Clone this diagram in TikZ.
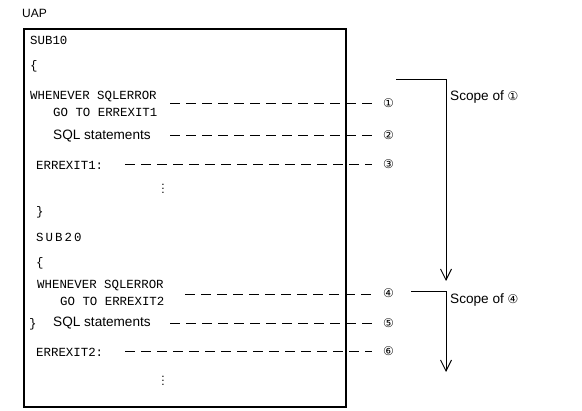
\documentclass[tikz,border=0pt]{standalone}
\usepackage{fontspec}
\setmainfont{Liberation Sans}
\newfontfamily\codefont{Liberation Mono}
\newfontfamily\symfont{DejaVu Sans}
\usetikzlibrary{arrows.meta}
\begin{document}
\begin{tikzpicture}[x=1pt,y=-1pt,
  code/.style={anchor=west,inner sep=0pt,font=\codefont\fontsize{12.4}{14}\selectfont},
  sans/.style={anchor=west,inner sep=0pt,font=\fontsize{13.6}{15}\selectfont},
  num/.style={anchor=west,inner sep=0pt,font=\symfont\fontsize{12}{14}\selectfont},
  dashline/.style={line width=0.9pt,dash pattern=on 10pt off 6pt},
  scope/.style={line width=0.9pt,-{Straight Barb[length=11pt,width=11pt]}},
  dotcol/.style={inner sep=0pt,font=\fontsize{12}{14}\selectfont}]
\useasboundingbox (0,0) rectangle (582,411);
% title and frame
\node[sans,font=\fontsize{12}{14}\selectfont] (uap) at (22,13) {UAP};
\draw[line width=1.6pt] (24,29) rectangle (346,407);
% first block
\node[code] (sub10) at (30,40) {SUB10};
\node[code] (ob1) at (30,66) {\{};
\node[code] (wh1) at (30,97) {WHENEVER SQLERROR};
\node[code] (go1) at (53,112) {GO TO ERREXIT1};
\node[sans] (sql1) at (53,136) {SQL statements};
\node[code] (ex1) at (36,165) {ERREXIT1:};
\node[dotcol] (dots1) at (163,186) {$\vdots$};
\node[code] (cb1) at (36,212) {\}};
% second block
\node[code] (sub20) at (36,237) {S\,U\,B\,2\,0};
\node[code] (ob2) at (36,263) {\{};
\node[code] (wh2) at (37,286) {WHENEVER SQLERROR};
\node[code] (go2) at (60,301) {GO TO ERREXIT2};
\node[code] (cb2) at (29,324) {\}};
\node[sans] (sql2) at (53,323) {SQL statements};
\node[code] (ex2) at (36,352) {ERREXIT2:};
\node[dotcol] (dots2) at (163,378) {$\vdots$};
% numbers
\node[num] (n1) at (383,103) {①};
\node[num] (n2) at (383,135) {②};
\node[num] (n3) at (383,164) {③};
\node[num] (n4) at (383,293) {④};
\node[num] (n5) at (383,323) {⑤};
\node[num] (n6) at (383,351) {⑥};
% dashed connectors
\coordinate (d1) at (170,103);
\coordinate (d2) at (170,135);
\coordinate (d3) at (125,164);
\coordinate (d4) at (185,294);
\coordinate (d5) at (170,323);
\coordinate (d6) at (125,351);
\coordinate (e1) at (372,103);
\coordinate (e2) at (372,135);
\coordinate (e3) at (372,164);
\coordinate (e4) at (372,294);
\coordinate (e5) at (372,323);
\coordinate (e6) at (372,351);
\foreach \i in {1,...,6} {\draw[dashline] (d\i) -- (e\i);}
% scopes
\coordinate (s1a) at (396,79);
\coordinate (s1b) at (446,79);
\coordinate (s1c) at (446,281);
\draw[scope] (s1a) -- (s1b) -- (s1c);
\node[sans] (sc1) at (450,97) {Scope of {\symfont\fontsize{12}{14}\selectfont ①}};
\coordinate (s2a) at (411,291);
\coordinate (s2b) at (446,291);
\coordinate (s2c) at (446,372);
\draw[scope] (s2a) -- (s2b) -- (s2c);
\node[sans] (sc2) at (450,300) {Scope of {\symfont\fontsize{12}{14}\selectfont ④}};
\end{tikzpicture}
\end{document}
